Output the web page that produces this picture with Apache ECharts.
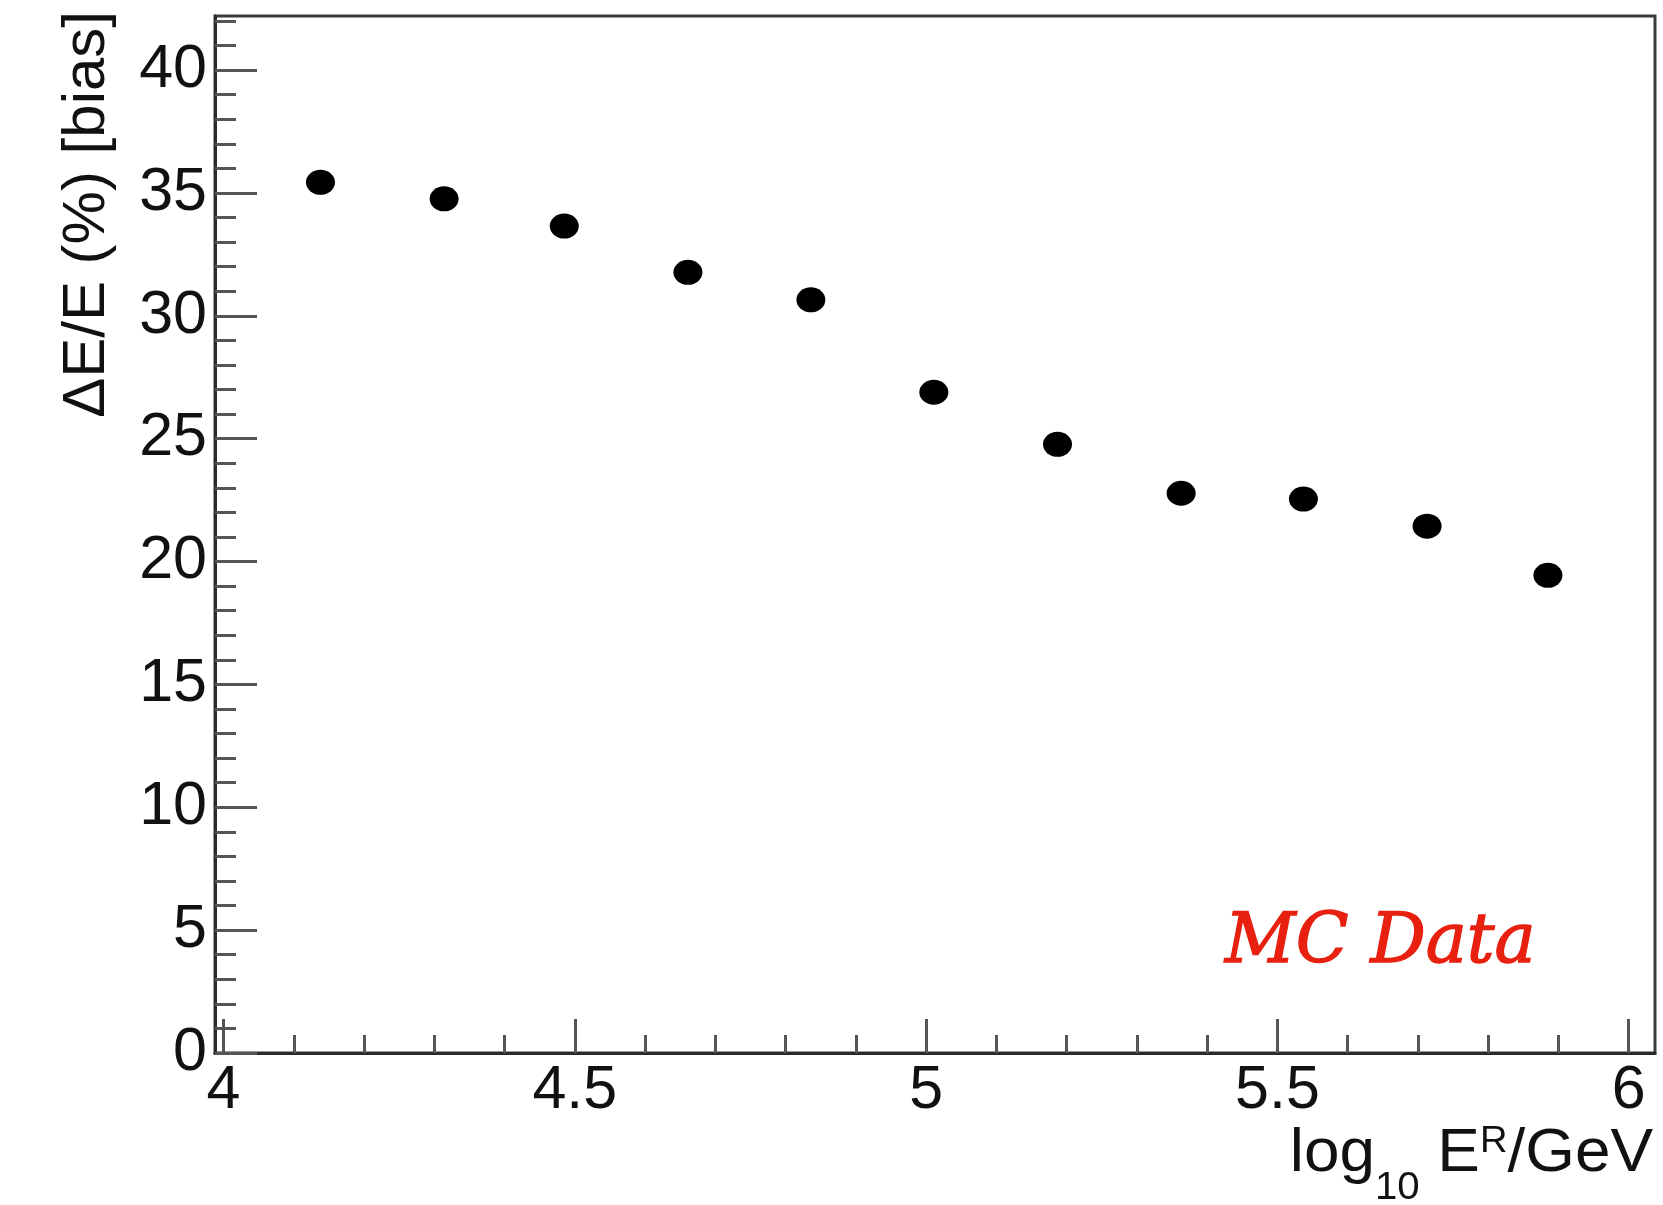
<!DOCTYPE html>
<html>
<head>
<meta charset="utf-8">
<script src="https://cdn.jsdelivr.net/npm/echarts@6/dist/echarts.min.js"></script>
<style>html,body{margin:0;padding:0;background:#fff;}#c{width:1663px;height:1205px;}</style>
</head>
<body>
<div id="c"></div>
<script>
// ---- data ----
const xValues    = [4.138, 4.314, 4.485, 4.661, 4.836, 5.011, 5.187, 5.363, 5.537, 5.713, 5.885];
const biasValues = [35.43, 34.76, 33.65, 31.77, 30.65, 26.89, 24.77, 22.78, 22.54, 21.44, 19.44];
const xTickLabels = [4, 4.5, 5, 5.5, 6];
const yTickLabels = [0, 5, 10, 15, 20, 25, 30, 35, 40];
const xRange = [3.9879, 6.0374];
const yRange = [0, 42.2];

// minor tick positions (0.1 on x, 1 on y)
const xMinor = [];
for (let i = 40; i <= 60; i++) { if (i % 5 !== 0) xMinor.push(i / 10); }
const yMinor = [];
for (let i = 0; i <= 42; i++) { if (i % 5 !== 0) yMinor.push(i); }

const points = xValues.map((x, i) => [x, biasValues[i]]);

const FONT = '"Liberation Sans", Arial, Helvetica, sans-serif';
const chart = echarts.init(document.getElementById('c'), null, {renderer: 'canvas'});
chart.setOption({
  animation: false,
  backgroundColor: '#fff',
  grid: {
    left: 215, right: 8, top: 16, bottom: 152,
    show: true, borderColor: '#3a3a3a', borderWidth: 3,
    containLabel: false, outerBoundsMode: 'none'
  },
  xAxis: [{
    type: 'value', min: xRange[0], max: xRange[1], position: 'bottom',
    axisLine: {show: true, onZero: false, lineStyle: {color: '#2a2a2a', width: 3}},
    axisTick: {show: true, inside: true, length: 34, customValues: xTickLabels, lineStyle: {color: '#555', width: 3}},
    axisLabel: {show: true, customValues: xTickLabels, fontSize: 61, fontFamily: FONT, color: '#111', margin: 8},
    splitLine: {show: false}
  }, {
    type: 'value', min: xRange[0], max: xRange[1], position: 'bottom', gridIndex: 0,
    axisLine: {show: false},
    axisTick: {show: true, inside: true, length: 18, customValues: xMinor, lineStyle: {color: '#555', width: 3}},
    axisLabel: {show: false},
    splitLine: {show: false}
  }],
  yAxis: [{
    type: 'value', min: yRange[0], max: yRange[1], position: 'left',
    axisLine: {show: true, onZero: false, lineStyle: {color: '#2a2a2a', width: 3}},
    axisTick: {show: true, inside: true, length: 42, customValues: yTickLabels, lineStyle: {color: '#555', width: 3}},
    axisLabel: {show: true, customValues: yTickLabels, fontSize: 61, fontFamily: FONT, color: '#111', margin: 8},
    splitLine: {show: false}
  }, {
    type: 'value', min: yRange[0], max: yRange[1], position: 'left', gridIndex: 0,
    axisLine: {show: false},
    axisTick: {show: true, inside: true, length: 21, customValues: yMinor, lineStyle: {color: '#555', width: 3}},
    axisLabel: {show: false},
    splitLine: {show: false}
  }],
  series: [{
    type: 'scatter', xAxisIndex: 0, yAxisIndex: 0,
    data: points, symbol: 'circle', symbolSize: [29, 25],
    itemStyle: {color: '#000', opacity: 1}
  }],
  graphic: [
    {
      type: 'text', x: 87, y: 11, rotation: Math.PI / 2,
      style: {text: 'ΔE/E (%) [bias]', font: '60px ' + FONT, fill: '#111', align: 'right', verticalAlign: 'middle'}
    },
    {
      type: 'text', x: 1653, y: 1123, scaleX: 1.03, originX: 0,
      style: {
        text: '{m|log}{s|10}{m| E}{p|R}{m|/GeV}',
        align: 'right', verticalAlign: 'top', fill: '#111',
        rich: {
          m: {fontSize: 62, fontFamily: FONT, lineHeight: 62, verticalAlign: 'top', fill: '#111'},
          s: {fontSize: 39, fontFamily: FONT, lineHeight: 39, verticalAlign: 'top', padding: [46, 0, 0, 0], fill: '#111'},
          p: {fontSize: 37, fontFamily: FONT, lineHeight: 30, verticalAlign: 'top', fill: '#111'}
        }
      }
    },
    {
      type: 'text', x: 1225, y: 944,
      style: {text: 'MC Data', font: 'italic 69px "DejaVu Serif", serif', fill: '#e8200f',
              stroke: '#e8200f', lineWidth: 1.4, align: 'left', verticalAlign: 'middle'}
    }
  ]
});
</script>
</body>
</html>
